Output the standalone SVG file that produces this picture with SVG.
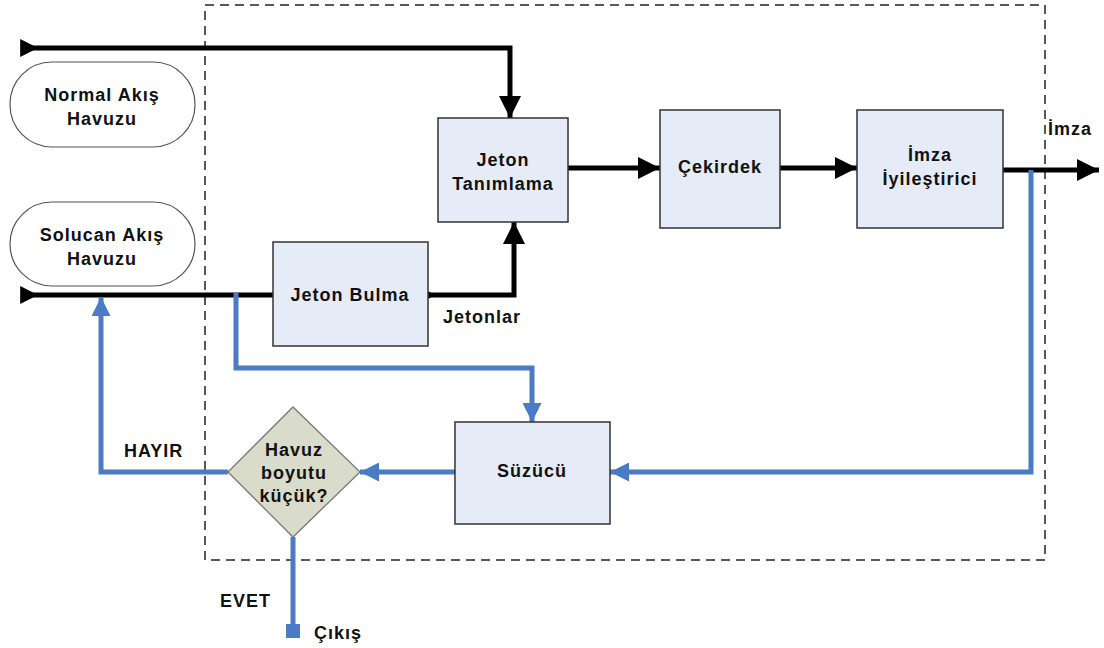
<svg xmlns="http://www.w3.org/2000/svg" width="1104" height="648" viewBox="0 0 1104 648">
  <defs>
    <marker id="ahBlack" viewBox="0 0 10 10" refX="10" refY="5" markerWidth="5.2" markerHeight="4.4" markerUnits="strokeWidth" orient="auto">
      <path d="M0,0 L10,5 L0,10 z" fill="#000"/>
    </marker>
    <marker id="ahBlue" viewBox="0 0 10 10" refX="10" refY="5" markerWidth="5" markerHeight="3.8" markerUnits="strokeWidth" orient="auto">
      <path d="M0,0 L10,5 L0,10 z" fill="#4A7BC4"/>
    </marker>
    <marker id="tailBlack" viewBox="0 0 10 10" refX="1" refY="5" markerWidth="3.6" markerHeight="4.4" markerUnits="strokeWidth" orient="auto">
      <path d="M0,0 L10,5 L0,10 z" fill="#000"/>
    </marker>
  </defs>
  <style>
    .lbl { font-family: "Liberation Sans", Arial, sans-serif; font-weight: bold; font-size: 18px; letter-spacing: 1px; fill: #111; }
    .box { fill: #E6ECF7; stroke: #333; stroke-width: 1.5; }
    .pool { fill: #fff; stroke: #555; stroke-width: 1.2; }
    .blk { fill: none; stroke: #000; stroke-width: 5; }
    .blu { fill: none; stroke: #4A7BC4; stroke-width: 5; }
  </style>

  <rect width="1104" height="648" fill="#fff"/>

  <!-- system boundary -->
  <rect x="205" y="5" width="840" height="555" fill="none" stroke="#222" stroke-width="1.5" stroke-dasharray="9,6"/>

  <g id="connectors">
    <!-- black data paths -->
    <path class="blk" d="M22,48 H510 V118" marker-start="url(#tailBlack)" marker-end="url(#ahBlack)"/>
    <path class="blk" d="M22,295 H273" marker-start="url(#tailBlack)"/>
    <path class="blk" d="M428,295 H514 V222" marker-end="url(#ahBlack)"/>
    <circle cx="428" cy="295" r="3.5" fill="#000"/>
    <path class="blk" d="M568,168 H660" marker-end="url(#ahBlack)"/>
    <path class="blk" d="M780,168 H857" marker-end="url(#ahBlack)"/>
    <path class="blk" d="M1003,170 H1099" marker-end="url(#ahBlack)"/>
    <!-- blue feedback paths -->
    <path class="blu" d="M236,293 V368 H532 V422" marker-end="url(#ahBlue)"/>
    <path class="blu" d="M1031,170 V472 H610" marker-end="url(#ahBlue)"/>
    <path class="blu" d="M455,472 H360" marker-end="url(#ahBlue)"/>
    <path class="blu" d="M228,472 H101 V297" marker-end="url(#ahBlue)"/>
    <path class="blu" d="M293,537 V628"/>
    <rect x="286" y="624" width="14" height="14" fill="#4A7BC4"/>
    <text class="lbl" x="443" y="323">Jetonlar</text>
    <text class="lbl" x="1048" y="135">İmza</text>
    <text class="lbl" x="124" y="457">HAYIR</text>
    <text class="lbl" x="220" y="607">EVET</text>
    <text class="lbl" x="314" y="639">Çıkış</text>
  </g>

  <g id="normal-pool">
    <rect class="pool" x="10" y="62" width="185" height="85" rx="42" ry="42"/>
    <text class="lbl" x="102" y="101" text-anchor="middle">Normal Akış</text>
    <text class="lbl" x="102" y="125" text-anchor="middle">Havuzu</text>
  </g>

  <g id="worm-pool">
    <rect class="pool" x="10" y="202" width="185" height="84" rx="42" ry="42"/>
    <text class="lbl" x="102" y="241" text-anchor="middle">Solucan Akış</text>
    <text class="lbl" x="102" y="265" text-anchor="middle">Havuzu</text>
  </g>

  <g id="token-id">
    <rect class="box" x="438" y="118" width="130" height="104"/>
    <text class="lbl" x="503" y="166" text-anchor="middle">Jeton</text>
    <text class="lbl" x="503" y="190" text-anchor="middle">Tanımlama</text>
  </g>

  <g id="kernel">
    <rect class="box" x="660" y="110" width="120" height="118"/>
    <text class="lbl" x="720" y="173" text-anchor="middle">Çekirdek</text>
  </g>

  <g id="refiner">
    <rect class="box" x="857" y="110" width="146" height="118"/>
    <text class="lbl" x="930" y="161" text-anchor="middle">İmza</text>
    <text class="lbl" x="930" y="185" text-anchor="middle">İyileştirici</text>
  </g>

  <g id="token-find">
    <rect class="box" x="273" y="242" width="155" height="104"/>
    <text class="lbl" x="350" y="301" text-anchor="middle">Jeton Bulma</text>
  </g>

  <g id="filter">
    <rect class="box" x="455" y="422" width="155" height="102"/>
    <text class="lbl" x="532" y="477" text-anchor="middle">Süzücü</text>
  </g>

  <g id="decision">
    <polygon points="293,407 360,472 293,537 228,472" fill="#D9DCCB" stroke="#777" stroke-width="1.3"/>
    <text class="lbl" x="294" y="456" text-anchor="middle">Havuz</text>
    <text class="lbl" x="294" y="479" text-anchor="middle">boyutu</text>
    <text class="lbl" x="294" y="502" text-anchor="middle">küçük?</text>
  </g>
</svg>
